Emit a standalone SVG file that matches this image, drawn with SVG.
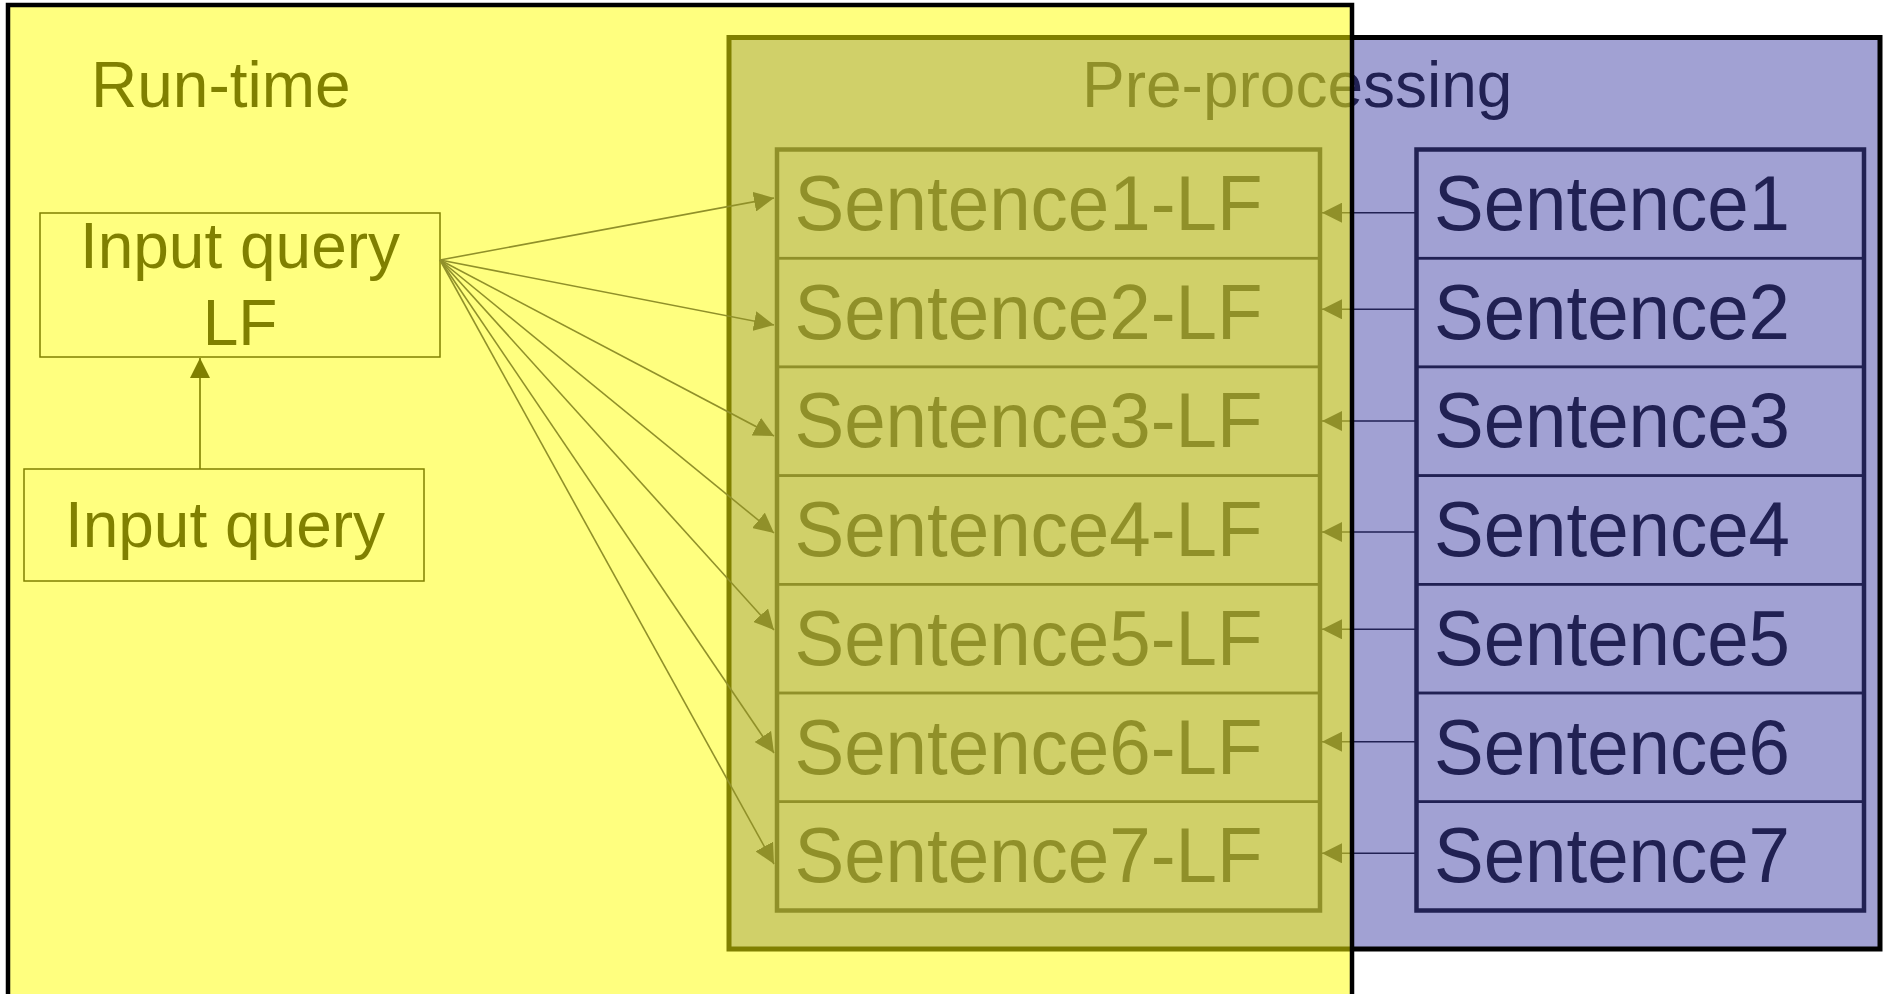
<svg xmlns="http://www.w3.org/2000/svg" width="1891" height="994" viewBox="0 0 1891 994">
  <defs>
    <style>
      text { font-family: "Liberation Sans", Arial, sans-serif; }
      .big { font-size: 77px; fill: #212153; }
      .lbl { font-size: 64px; }
      .q { font-size: 64px; fill: #000; text-anchor: middle; }
      .row { fill: none; stroke: #212153; stroke-width: 2.5; }
      .frame { fill: none; stroke: #212153; stroke-width: 4.5; }
      .qbox { fill: none; stroke: #000; stroke-width: 1.5; }
      .conn { stroke: #212153; stroke-width: 1.6; fill: none; marker-end: url(#arr); }
      .connk { stroke: #000; stroke-width: 1.6; fill: none; marker-end: url(#arrk); }
    </style>
    <marker id="arr" markerUnits="userSpaceOnUse" markerWidth="20" markerHeight="20" refX="20" refY="10" orient="auto">
      <path d="M0,0 L20,10 L0,20 Z" fill="#212153"/>
    </marker>
    <marker id="arrk" markerUnits="userSpaceOnUse" markerWidth="20" markerHeight="20" refX="20" refY="10" orient="auto">
      <path d="M0,0 L20,10 L0,20 Z" fill="#000"/>
    </marker>
  </defs>

  <rect x="0" y="0" width="1891" height="994" fill="#fff"/>

  <g id="preprocessing">
    <rect x="729" y="37.5" width="1151" height="911.5" fill="#a1a1d3" stroke="#000" stroke-width="5"/>
    <text class="lbl" x="1082" y="107" fill="#212153">Pre-processing</text>
  </g>

  <g id="runtime-label">
    <text class="lbl" x="91" y="107" fill="#000">Run-time</text>
  </g>

  <g id="lf-column">
    <g id="lf1"><rect class="row" x="777" y="149.5" width="543" height="108.7"/><text class="big" x="794.5" y="230" textLength="468" lengthAdjust="spacingAndGlyphs">Sentence1-LF</text></g>
    <g id="lf2"><rect class="row" x="777" y="258.2" width="543" height="108.7"/><text class="big" x="794.5" y="338.7" textLength="468" lengthAdjust="spacingAndGlyphs">Sentence2-LF</text></g>
    <g id="lf3"><rect class="row" x="777" y="366.9" width="543" height="108.7"/><text class="big" x="794.5" y="447.4" textLength="468" lengthAdjust="spacingAndGlyphs">Sentence3-LF</text></g>
    <g id="lf4"><rect class="row" x="777" y="475.6" width="543" height="108.7"/><text class="big" x="794.5" y="556.1" textLength="468" lengthAdjust="spacingAndGlyphs">Sentence4-LF</text></g>
    <g id="lf5"><rect class="row" x="777" y="584.3" width="543" height="108.7"/><text class="big" x="794.5" y="664.8" textLength="468" lengthAdjust="spacingAndGlyphs">Sentence5-LF</text></g>
    <g id="lf6"><rect class="row" x="777" y="693" width="543" height="108.7"/><text class="big" x="794.5" y="773.5" textLength="468" lengthAdjust="spacingAndGlyphs">Sentence6-LF</text></g>
    <g id="lf7"><rect class="row" x="777" y="801.7" width="543" height="108.8"/><text class="big" x="794.5" y="882.2" textLength="468" lengthAdjust="spacingAndGlyphs">Sentence7-LF</text></g>
    <rect class="frame" x="777" y="149.5" width="543" height="761"/>
  </g>

  <g id="sentence-column">
    <g id="s1"><rect class="row" x="1416.5" y="149.5" width="447.5" height="108.7"/><text class="big" x="1434" y="230" textLength="356" lengthAdjust="spacingAndGlyphs">Sentence1</text></g>
    <g id="s2"><rect class="row" x="1416.5" y="258.2" width="447.5" height="108.7"/><text class="big" x="1434" y="338.7" textLength="356" lengthAdjust="spacingAndGlyphs">Sentence2</text></g>
    <g id="s3"><rect class="row" x="1416.5" y="366.9" width="447.5" height="108.7"/><text class="big" x="1434" y="447.4" textLength="356" lengthAdjust="spacingAndGlyphs">Sentence3</text></g>
    <g id="s4"><rect class="row" x="1416.5" y="475.6" width="447.5" height="108.7"/><text class="big" x="1434" y="556.1" textLength="356" lengthAdjust="spacingAndGlyphs">Sentence4</text></g>
    <g id="s5"><rect class="row" x="1416.5" y="584.3" width="447.5" height="108.7"/><text class="big" x="1434" y="664.8" textLength="356" lengthAdjust="spacingAndGlyphs">Sentence5</text></g>
    <g id="s6"><rect class="row" x="1416.5" y="693" width="447.5" height="108.7"/><text class="big" x="1434" y="773.5" textLength="356" lengthAdjust="spacingAndGlyphs">Sentence6</text></g>
    <g id="s7"><rect class="row" x="1416.5" y="801.7" width="447.5" height="108.8"/><text class="big" x="1434" y="882.2" textLength="356" lengthAdjust="spacingAndGlyphs">Sentence7</text></g>
    <rect class="frame" x="1416.5" y="149.5" width="447.5" height="761"/>
  </g>

  <g id="input-query-lf">
    <rect class="qbox" x="40" y="213" width="400" height="144"/>
    <text class="q" x="240" y="268">Input query</text>
    <text class="q" x="240" y="345">LF</text>
  </g>

  <g id="input-query">
    <rect class="qbox" x="24" y="469" width="400" height="112"/>
    <text class="q" x="225" y="547">Input query</text>
  </g>

  <g id="connectors">
    <line class="connk" x1="200" y1="469" x2="200" y2="358"/>
    <line class="conn" x1="440" y1="260" x2="774" y2="198"/>
    <line class="conn" x1="440" y1="260" x2="774" y2="325"/>
    <line class="conn" x1="440" y1="260" x2="774" y2="436"/>
    <line class="conn" x1="440" y1="260" x2="774" y2="533"/>
    <line class="conn" x1="440" y1="260" x2="774" y2="630"/>
    <line class="conn" x1="440" y1="260" x2="774" y2="753"/>
    <line class="conn" x1="440" y1="260" x2="774" y2="864"/>
    <line class="conn" x1="1416" y1="212.7" x2="1322" y2="212.7"/>
    <line class="conn" x1="1416" y1="309.3" x2="1322" y2="309.3"/>
    <line class="conn" x1="1416" y1="421" x2="1322" y2="421"/>
    <line class="conn" x1="1416" y1="532" x2="1322" y2="532"/>
    <line class="conn" x1="1416" y1="629.3" x2="1322" y2="629.3"/>
    <line class="conn" x1="1416" y1="741.7" x2="1322" y2="741.7"/>
    <line class="conn" x1="1416" y1="853.3" x2="1322" y2="853.3"/>
  </g>

  <g id="runtime">
    <rect x="8" y="5" width="1344" height="1100" fill="#ffff00" fill-opacity="0.5" stroke="#000" stroke-width="4.5"/>
  </g>
</svg>
